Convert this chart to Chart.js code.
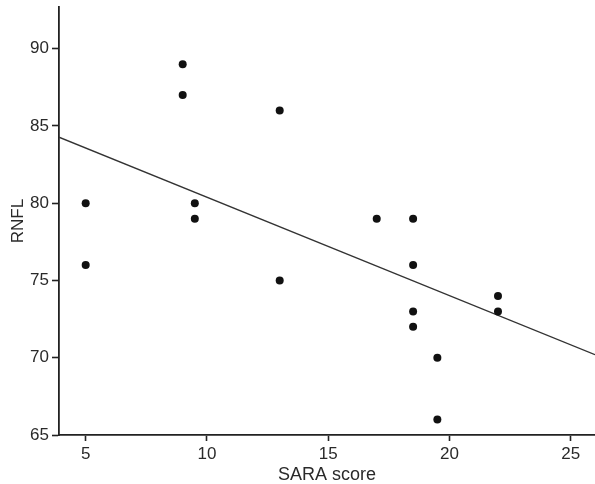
<!DOCTYPE html>
<html>
<head>
<meta charset="utf-8">
<script src="https://cdn.jsdelivr.net/npm/chart.js@4"></script>
<style>
  html, body { margin: 0; padding: 0; background: #fff; }
  #chart { display: block; }
</style>
</head>
<body>
<canvas id="chart" width="595" height="484"></canvas>
<script>
// observed points
const saraScore = [5, 5, 9, 9, 9.5, 9.5, 13, 13, 17, 18.5, 18.5, 18.5, 18.5, 19.5, 19.5, 22, 22];
const rnfl = [80, 76, 89, 87, 80, 79, 86, 75, 79, 79, 76, 73, 72, 70, 66, 74, 73];

// fit line ends
const fitX = [3.9, 26];
const fitY = [84.27, 70.2];

const xTicks = [5, 10, 15, 20, 25];
const yTicks = [65, 70, 75, 80, 85, 90];

const ctx = document.getElementById('chart').getContext('2d');

const axisColor = '#222';
const textColor = '#2a2a2a';
const fontFamily = '"Liberation Sans", Arial, Helvetica, sans-serif';

new Chart(ctx, {
  type: 'scatter',
  data: {
    datasets: [
      {
        label: 'RNFL',
        data: saraScore.map((x, i) => ({ x: x, y: rnfl[i] })),
        backgroundColor: '#111',
        borderColor: '#111',
        pointRadius: 4,
        pointBorderWidth: 0
      },
      {
        type: 'line',
        label: 'fit',
        data: fitX.map((x, i) => ({ x: x, y: fitY[i] })),
        borderColor: '#333',
        borderWidth: 1.4,
        pointRadius: 0,
        fill: false
      }
    ]
  },
  options: {
    responsive: false,
    animation: false,
    layout: { autoPadding: false, padding: { top: 7, right: 0, left: 0, bottom: 0 } },
    plugins: {
      legend: { display: false },
      tooltip: { enabled: false }
    },
    scales: {
      x: {
        type: 'linear',
        min: 3.9,
        max: 26,
        afterBuildTicks: (scale) => { scale.ticks = xTicks.map(v => ({ value: v })); },
        afterFit: (scale) => {
          scale.height = 49;
          scale.paddingLeft = 0;
          scale.paddingRight = 0;
        },
        border: { color: axisColor, width: 1.8 },
        grid: { drawOnChartArea: false, drawTicks: true, tickLength: 6, tickColor: axisColor, tickWidth: 1.6 },
        ticks: {
          padding: 3,
          color: textColor,
          font: { family: fontFamily, size: 17 },
          maxRotation: 0
        },
        title: {
          display: true,
          text: 'SARA score',
          color: textColor,
          font: { family: fontFamily, size: 18 },
          padding: { top: 0, bottom: -2 }
        }
      },
      y: {
        type: 'linear',
        min: 65,
        max: 92.7,
        afterBuildTicks: (scale) => { scale.ticks = yTicks.map(v => ({ value: v })); },
        afterFit: (scale) => {
          scale.width = 59;
          scale.paddingTop = 0;
          scale.paddingBottom = 0;
        },
        border: { color: axisColor, width: 1.8 },
        grid: { drawOnChartArea: false, drawTicks: true, tickLength: 7, tickColor: axisColor, tickWidth: 1.6 },
        ticks: {
          padding: 3,
          color: textColor,
          font: { family: fontFamily, size: 17 }
        },
        title: {
          display: true,
          text: 'RNFL',
          color: textColor,
          font: { family: fontFamily, size: 17 },
          padding: { top: 8, bottom: 0 }
        }
      }
    }
  }
});
</script>
</body>
</html>
